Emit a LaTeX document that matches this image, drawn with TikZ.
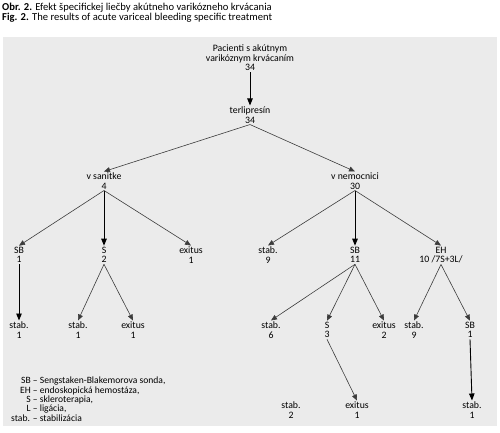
\documentclass[tikz,border=0pt]{standalone}
\usepackage{fontspec}
\setmainfont{Carlito}
\usetikzlibrary{arrows.meta}
\definecolor{bgpanel}{RGB}{235,235,235}
\definecolor{linegray}{RGB}{60,60,60}
\tikzset{
  lbl/.style={align=center, inner sep=1.2pt, font=\fontsize{9.8}{9.4}\selectfont},
  diag/.style={draw=linegray, line width=0.6pt, -{Triangle[length=6pt,width=5pt]}},
  vert/.style={draw=black, line width=0.9pt, -{Triangle[length=7pt,width=5.5pt]}},
}
\begin{document}
\begin{tikzpicture}[x=1pt,y=-1pt]
\useasboundingbox (0,0) rectangle (500,433);
\fill[bgpanel] (3,37) rectangle (497,426);
\node[anchor=north west, align=left, inner sep=0pt, font=\fontsize{10.6}{10.2}\selectfont] (title) at (2,3)
  {\textbf{Obr. 2.} Efekt špecifickej liečby akútneho varikózneho krvácania\\
   \textbf{Fig. 2.} The results of acute variceal bleeding specific treatment};
% nodes
\node[lbl] (root) at (250,58) {Pacienti s akútnym\\varikóznym krvácaním\\34};
\node[lbl] (terli) at (250,115) {terlipresín\\34};
\node[lbl] (san) at (104,181) {v sanitke\\4};
\node[lbl] (nem) at (355,181) {v nemocnici\\30};
\node[lbl] (sbA) at (19,255) {SB\\1};
\node[lbl] (sA) at (104,255) {S\\2};
\node[lbl] (exA) at (191,255) {exitus\\1};
\node[lbl] (stN) at (268,255) {stab.\\9};
\node[lbl] (sbN) at (355,255) {SB\\11};
\node[lbl] (eh) at (441,255) {EH\\10 /7S+3L/};
\node[lbl] (stA1) at (19,330) {stab.\\1};
\node[lbl] (stA2) at (78,330) {stab.\\1};
\node[lbl] (exA2) at (133,330) {exitus\\1};
\node[lbl] (stB6) at (271,330) {stab.\\6};
\node[lbl] (sB3) at (327,330) {S\\3};
\node[lbl] (exB2) at (384,330) {exitus\\2};
\node[lbl] (stC9) at (414,330) {stab.\\9};
\node[lbl] (sbC1) at (470,330) {SB\\1};
\node[lbl] (stD2) at (291,410) {stab.\\2};
\node[lbl] (exD1) at (357,410) {exitus\\1};
\node[lbl] (stD1) at (472,410) {stab.\\1};
% connectors
\draw[vert] (root) -- (terli);
\draw[diag] (terli.south) -- (san.north);
\draw[diag] (terli.south) -- (nem.north);
\draw[diag] (san.south) -- (sbA.north);
\draw[vert] (san.south) -- (sA.north);
\draw[diag] (san.south) -- (exA.north);
\draw[diag] (nem.south) -- (stN.north);
\draw[vert] (nem.south) -- (sbN.north);
\draw[diag] (nem.south) -- (eh.north);
\draw[vert] (sbA.south) -- (stA1.north);
\draw[diag] (sA.south) -- (stA2.north);
\draw[diag] (sA.south) -- (exA2.north);
\draw[diag] (sbN.south) -- (stB6.north);
\draw[diag] (sbN.south) -- (sB3.north);
\draw[diag] (sbN.south) -- (exB2.north);
\draw[diag] (eh.south) -- (stC9.north);
\draw[diag] (eh.south) -- (sbC1.north);
\draw[diag] (sB3.south) -- (exD1.north);
\draw[vert] (sbC1.south) -- (stD1.north);
% legend
\node[anchor=north west, inner sep=0pt, font=\fontsize{9.6}{8.9}\selectfont] (legend) at (11,377)
  {\begin{tabular}{@{}r@{ -- }l@{}}
   SB & Sengstaken-Blakemorova sonda,\\
   EH & endoskopická hemostáza,\\
   S & skleroterapia,\\
   L & ligácia,\\
   stab. & stabilizácia
   \end{tabular}};
\end{tikzpicture}
\end{document}
